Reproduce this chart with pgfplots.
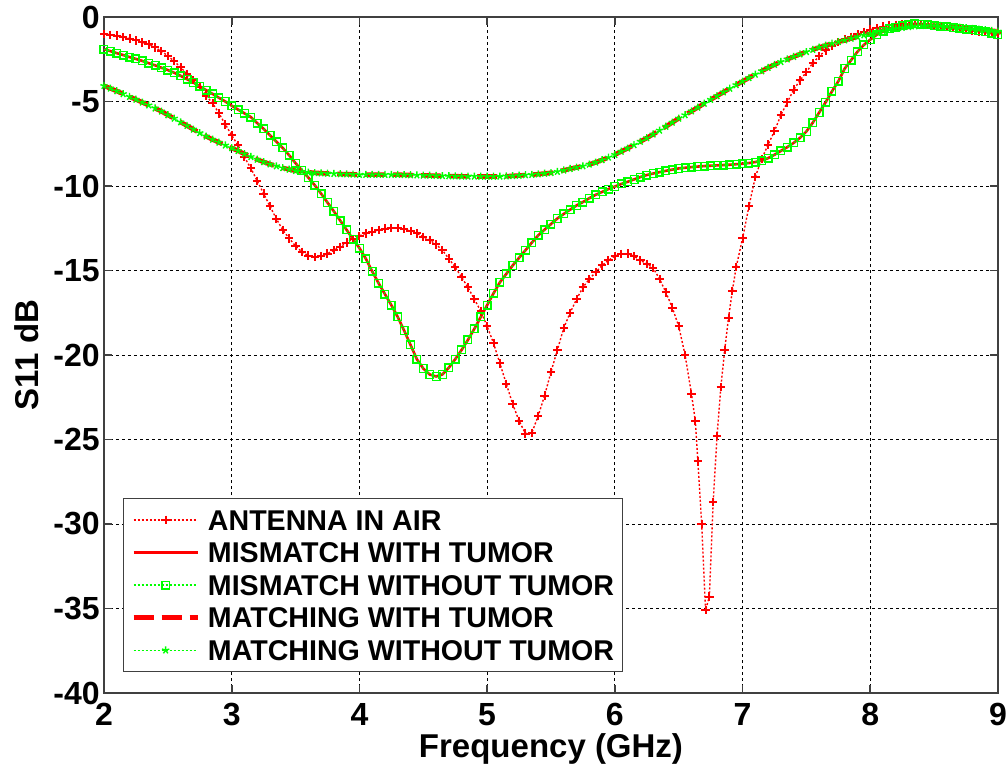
\documentclass[border=0pt]{standalone}
\usepackage{fontspec}
\setmainfont{Liberation Sans}
\usepackage{pgfplots}
\usepackage{pgfplotstable}
\pgfplotsset{compat=1.18}

\definecolor{mred}{RGB}{255,0,0}
\definecolor{mgreen}{RGB}{0,255,0}

% antenna in air
\pgfplotstableread{
f s
2.00 -1.00
2.05 -1.05
2.10 -1.10
2.15 -1.18
2.20 -1.28
2.25 -1.38
2.30 -1.50
2.35 -1.62
2.40 -1.80
2.45 -2.02
2.50 -2.30
2.55 -2.62
2.60 -2.98
2.65 -3.36
2.70 -3.74
2.75 -4.15
2.80 -4.65
2.85 -5.10
2.90 -5.70
2.95 -6.35
3.00 -7.00
3.05 -7.60
3.10 -8.30
3.15 -8.95
3.20 -9.70
3.25 -10.45
3.30 -11.20
3.35 -11.95
3.40 -12.60
3.45 -13.10
3.50 -13.55
3.55 -13.90
3.60 -14.12
3.65 -14.20
3.70 -14.15
3.75 -14.00
3.80 -13.80
3.85 -13.60
3.90 -13.35
3.95 -13.12
4.00 -12.95
4.05 -12.80
4.10 -12.70
4.15 -12.60
4.20 -12.52
4.25 -12.48
4.30 -12.47
4.35 -12.55
4.40 -12.65
4.45 -12.80
4.50 -13.00
4.55 -13.20
4.60 -13.45
4.65 -13.80
4.70 -14.30
4.75 -14.80
4.80 -15.40
4.85 -16.00
4.90 -16.70
4.95 -17.40
5.00 -18.30
5.05 -19.30
5.10 -20.50
5.15 -21.70
5.20 -22.90
5.25 -23.90
5.30 -24.65
5.35 -24.60
5.40 -23.60
5.45 -22.40
5.50 -21.00
5.55 -19.70
5.60 -18.40
5.65 -17.50
5.70 -16.70
5.75 -16.00
5.80 -15.50
5.85 -15.10
5.90 -14.70
5.95 -14.40
6.00 -14.15
6.05 -14.02
6.10 -14.00
6.15 -14.15
6.20 -14.40
6.25 -14.60
6.30 -14.85
6.35 -15.50
6.40 -16.30
6.45 -17.20
6.50 -18.30
6.55 -20.00
6.60 -22.30
6.63 -23.90
6.65 -26.30
6.68 -30.00
6.71 -35.10
6.74 -34.30
6.77 -28.70
6.80 -24.80
6.83 -21.90
6.86 -19.70
6.89 -17.80
6.92 -16.20
6.95 -14.80
7.00 -13.10
7.05 -11.20
7.10 -9.45
7.15 -8.40
7.20 -7.55
7.25 -6.75
7.30 -5.80
7.35 -5.05
7.40 -4.30
7.45 -3.75
7.50 -3.25
7.55 -2.72
7.60 -2.32
7.65 -1.98
7.70 -1.70
7.75 -1.48
7.80 -1.30
7.85 -1.17
7.90 -1.03
7.95 -0.88
8.00 -0.75
8.05 -0.65
8.10 -0.57
8.15 -0.50
8.20 -0.46
8.25 -0.43
8.30 -0.42
8.35 -0.42
8.40 -0.44
8.45 -0.47
8.50 -0.50
8.55 -0.55
8.60 -0.60
8.65 -0.65
8.70 -0.70
8.75 -0.75
8.80 -0.80
8.85 -0.85
8.90 -0.90
8.95 -0.93
9.00 -0.95
}\air

% mismatch (with / without tumor) and matching (with / without tumor)
\pgfplotstableread{
f mis mat
2.00 -1.90 -4.07
2.05 -2.02 -4.22
2.10 -2.14 -4.38
2.15 -2.25 -4.55
2.20 -2.37 -4.72
2.25 -2.48 -4.88
2.30 -2.60 -5.05
2.35 -2.73 -5.22
2.40 -2.86 -5.40
2.45 -3.00 -5.58
2.50 -3.14 -5.80
2.55 -3.30 -6.00
2.60 -3.48 -6.22
2.65 -3.68 -6.43
2.70 -3.88 -6.65
2.75 -4.10 -6.86
2.80 -4.33 -7.06
2.85 -4.55 -7.25
2.90 -4.78 -7.42
2.95 -5.00 -7.59
3.00 -5.25 -7.75
3.05 -5.48 -7.92
3.10 -5.70 -8.10
3.15 -5.92 -8.27
3.20 -6.28 -8.43
3.25 -6.62 -8.58
3.30 -7.00 -8.71
3.35 -7.38 -8.82
3.40 -7.75 -8.93
3.45 -8.18 -9.02
3.50 -8.65 -9.10
3.55 -9.08 -9.15
3.60 -9.50 -9.19
3.65 -9.95 -9.22
3.70 -10.45 -9.24
3.75 -10.98 -9.26
3.80 -11.50 -9.27
3.85 -12.05 -9.29
3.90 -12.60 -9.30
3.95 -13.15 -9.31
4.00 -13.67 -9.33
4.05 -14.30 -9.33
4.10 -15.05 -9.33
4.15 -15.75 -9.33
4.20 -16.40 -9.33
4.25 -17.05 -9.33
4.30 -17.75 -9.33
4.35 -18.55 -9.34
4.40 -19.40 -9.35
4.45 -20.25 -9.36
4.50 -20.80 -9.37
4.55 -21.15 -9.38
4.60 -21.27 -9.39
4.65 -21.15 -9.40
4.70 -20.75 -9.41
4.75 -20.25 -9.42
4.80 -19.70 -9.43
4.85 -19.10 -9.43
4.90 -18.45 -9.43
4.95 -17.75 -9.44
5.00 -17.05 -9.44
5.05 -16.35 -9.44
5.10 -15.70 -9.43
5.15 -15.20 -9.42
5.20 -14.70 -9.40
5.25 -14.25 -9.38
5.30 -13.80 -9.35
5.35 -13.35 -9.33
5.40 -12.92 -9.30
5.45 -12.58 -9.26
5.50 -12.25 -9.22
5.55 -11.92 -9.15
5.60 -11.65 -9.07
5.65 -11.40 -8.98
5.70 -11.15 -8.90
5.75 -10.95 -8.82
5.80 -10.72 -8.72
5.85 -10.52 -8.60
5.90 -10.35 -8.46
5.95 -10.18 -8.31
6.00 -10.03 -8.15
6.05 -9.88 -7.96
6.10 -9.75 -7.77
6.15 -9.61 -7.57
6.20 -9.47 -7.37
6.25 -9.35 -7.16
6.30 -9.26 -6.94
6.35 -9.18 -6.71
6.40 -9.10 -6.48
6.45 -9.03 -6.24
6.50 -8.96 -6.00
6.55 -8.92 -5.80
6.60 -8.88 -5.57
6.65 -8.85 -5.35
6.70 -8.82 -5.12
6.75 -8.80 -4.89
6.80 -8.78 -4.67
6.85 -8.76 -4.45
6.90 -8.74 -4.23
6.95 -8.71 -4.02
7.00 -8.68 -3.81
7.05 -8.64 -3.60
7.10 -8.58 -3.40
7.15 -8.50 -3.20
7.20 -8.35 -3.00
7.25 -8.15 -2.82
7.30 -7.92 -2.65
7.35 -7.70 -2.50
7.40 -7.45 -2.35
7.45 -7.15 -2.20
7.50 -6.77 -2.06
7.55 -6.25 -1.93
7.60 -5.65 -1.80
7.65 -5.05 -1.68
7.70 -4.40 -1.57
7.75 -3.80 -1.47
7.80 -3.05 -1.37
7.85 -2.55 -1.27
7.90 -2.05 -1.17
7.95 -1.65 -1.07
8.00 -1.34 -0.98
8.05 -1.05 -0.89
8.10 -0.85 -0.81
8.15 -0.70 -0.74
8.20 -0.60 -0.68
8.25 -0.52 -0.63
8.30 -0.45 -0.58
8.35 -0.40 -0.54
8.40 -0.42 -0.52
8.45 -0.46 -0.51
8.50 -0.51 -0.51
8.55 -0.55 -0.52
8.60 -0.59 -0.55
8.65 -0.63 -0.58
8.70 -0.67 -0.62
8.75 -0.71 -0.65
8.80 -0.76 -0.69
8.85 -0.82 -0.73
8.90 -0.88 -0.77
8.95 -0.96 -0.81
9.00 -1.05 -0.85
}\sparam

\begin{document}
\begin{tikzpicture}
\useasboundingbox (-52pt,-37pt) rectangle (452pt,346.5pt);
\begin{axis}[
    at={(0,0)}, anchor=south west,
    scale only axis,
    width=447pt, height=338pt,
    xmin=2, xmax=9, ymin=-40, ymax=0,
    xtick={2,3,...,9},
    ytick={-40,-35,...,0},
    grid=major,
    grid style={black, line width=0.5pt, dash pattern=on 1.5pt off 1.5pt},
    axis line style={black!75, line width=0.8pt},
    tick style={black!75, line width=0.8pt},
    major tick length=4pt,
    tick align=inside,
    /pgf/number format/assume math mode=true,
    ticklabel style={font=\fontsize{16}{16}\selectfont\bfseries},
    xticklabel style={inner ysep=5pt},
    yticklabel style={inner xsep=2pt},
    xlabel={Frequency (GHz)},
    ylabel={S11 dB},
    label style={font=\fontsize{16.5}{16.5}\selectfont\bfseries},
    xlabel style={at={(axis description cs:0.5,-0.0947)}, anchor=base},
    ylabel style={at={(axis description cs:-0.0738,0.5)}, anchor=base},
    legend style={at={(axis description cs:0.021,0.031)}, anchor=south west,
        draw=black!75, line width=0.6pt, fill=white,
        font=\fontsize{14.3}{14.3}\selectfont\bfseries,
        inner xsep=4pt, inner ysep=5.5pt, row sep=6.1pt, column sep=4pt,
        nodes={inner sep=0pt, text height=10.2pt, text depth=0pt}},
    legend cell align=left,
    legend image code/.code={\draw[mark repeat=2, mark phase=2, #1]
        plot coordinates {(0pt,0pt) (16pt,0pt) (32pt,0pt)};},
]
\addplot[mred, line width=0.7pt, dash pattern=on 1pt off 1pt,
    mark=+, mark size=2.1pt, mark options={solid, line width=1pt}]
    table[x=f, y=s] {\air};
\addlegendentry{ANTENNA IN AIR}
\addplot[mred, line width=1.3pt, no marks] table[x=f, y=mis] {\sparam};
\addlegendentry{MISMATCH WITH TUMOR}
\addplot[mgreen, line width=0.6pt, dash pattern=on 1pt off 1pt,
    mark=square, mark size=1.9pt, mark options={solid, line width=0.7pt}]
    table[x=f, y=mis] {\sparam};
\addlegendentry{MISMATCH WITHOUT TUMOR}
\addplot[mred, line width=2.3pt, dash pattern=on 10pt off 4pt, no marks]
    table[x=f, y=mat] {\sparam};
\addlegendentry{MATCHING WITH TUMOR}
\addplot[mgreen, line width=0.6pt, dash pattern=on 1pt off 1pt,
    mark=star, mark size=1.9pt, mark options={solid, line width=0.7pt}]
    table[x=f, y=mat] {\sparam};
\addlegendentry{MATCHING WITHOUT TUMOR}
\end{axis}
\end{tikzpicture}
\end{document}
